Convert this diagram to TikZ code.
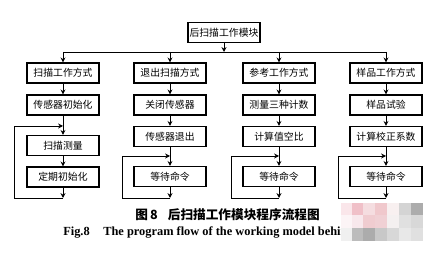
\documentclass[tikz,border=0pt]{standalone}
\usepackage{fontspec}
\setmainfont{Liberation Serif}
\newfontfamily\cjk{Noto Sans CJK SC}
\usepackage{tikz}
\usetikzlibrary{arrows.meta, positioning}

\begin{document}
\begin{tikzpicture}[x=0.025cm, y=-0.025cm,
      box/.style={rectangle, draw, line width=0.8pt, minimum width=1.8cm,
                  minimum height=0.5cm, inner sep=0pt,
                  font=\cjk\fontsize{7}{8}\selectfont},
      arr/.style={line width=0.7pt, -{Stealth[length=3.5pt, width=3.5pt]}},
      wire/.style={line width=0.7pt}
    ]
    \useasboundingbox (0,0) rectangle (434,261);

    %--- Top module ---
    \node[box] (top) at (224,32.5) {后扫描工作模块};
    \coordinate (bus) at (224,52);
    \draw[arr] (top) -- (bus);

    %--- Rows 1 and 2 of the four branches ---
    \foreach \n/\x/\ta/\tb in {
      1/63/扫描工作方式/传感器初始化,
      2/170/退出扫描方式/关闭传感器,
      3/279/参考工作方式/测量三种计数,
      4/386/样品工作方式/样品试验
    } {
      \node[box] (r1c\n) at (\x,73) {\ta};
      \node[box] (r2c\n) at (\x,105) {\tb};
      \draw[arr] (r1c\n |- bus) -- (r1c\n);
      \draw[arr] (r1c\n) -- (r2c\n);
    }
    \draw[wire] (r1c1 |- bus) -- (r1c4 |- bus);

    %--- Branch 1: loop round scan and re-init ---
    \node[box] (r3c1) at (63,145.5) {扫描测量};
    \node[box] (r4c1) at (63,177) {定期初始化};
    \coordinate (in1) at (63,126);
    \coordinate (out1) at (63,198);
    \draw[arr] (r2c1) -- (r3c1);
    \draw[arr] (r3c1) -- (r4c1);
    \draw[arr] (r4c1) -- (out1);
    \draw[arr] (out1) -- ++(-49,0) |- (in1);

    %--- Branches 2 to 4: loop on waiting ---
    \foreach \n/\x/\tc in {
      2/170/传感器退出,
      3/279/计算值空比,
      4/386/计算校正系数
    } {
      \node[box] (r3c\n) at (\x,136.5) {\tc};
      \node[box] (r4c\n) at (\x,176.5) {等待命令};
      \coordinate (in\n) at (\x,156);
      \coordinate (out\n) at (\x,198);
      \draw[arr] (r2c\n) -- (r3c\n);
      \draw[arr] (r3c\n) -- (r4c\n);
      \draw[arr] (r4c\n) -- (out\n);
      \draw[arr] (out\n) -- ++(-48,0) |- (in\n);
    }

    %--- Caption ---
    \node[font=\cjk\bfseries\fontsize{9}{10}\selectfont] (capcn) at (227.5,215)
          {图\,8\hspace{0.8em}后扫描工作模块程序流程图};
    \node[font=\bfseries\fontsize{8.8}{10}\selectfont, anchor=west, inner sep=0pt]
          (capen) at (63,233) {Fig.8\hspace{1.1em}The program flow of the working model behin};

    % Blurred patch over the end of the caption
    \foreach \c/\x/\y in {
      FAE6EA/341/203, F0C0C8/352/203, F5DDE0/363/203, F0C8CC/375/203, F8F0F0/387/203, D4D4D4/399/203, ACACAC/411/203,
      FCF4F6/341/215, F8E8EC/352/215, F0CCD0/363/215, F0D0D4/375/215, F4F0F0/387/215, E0E0E0/399/215, D8D8D8/411/215,
      F0F0F0/341/228, BCBCBC/352/228, ACACAC/363/228, C8C8C8/375/228, D8D8D8/387/228, E8E8E8/399/228, E0E0E0/411/228
    } {
      \definecolor{patch}{HTML}{\c}
      \fill[patch] (\x,\y) rectangle ++(12,13);
    }
  \end{tikzpicture}
\end{document}
